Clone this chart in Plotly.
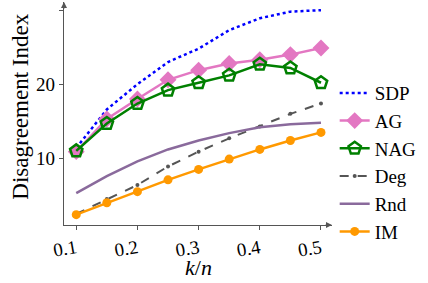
import plotly.graph_objects as go

x = [0.1, 0.15, 0.2, 0.25, 0.3, 0.35, 0.4, 0.45, 0.5]
sdp = [11.4, 16.6, 20.0, 23.0, 24.8, 27.3, 28.9, 29.8, 30.0]
ag = [10.9, 15.3, 18.0, 20.6, 21.9, 22.8, 23.3, 24.0, 24.9]
nag = [11.0, 14.7, 17.4, 19.2, 20.2, 21.2, 22.7, 22.2, 20.2]
deg = [2.5, 4.5, 6.4, 8.9, 10.9, 12.7, 14.3, 16.0, 17.4]
rnd = [5.3, 7.6, 9.6, 11.2, 12.4, 13.4, 14.2, 14.6, 14.8]
im = [2.4, 4.0, 5.5, 7.1, 8.5, 9.9, 11.2, 12.4, 13.5]
xticks = [0.1, 0.2, 0.3, 0.4, 0.5]
yticks = [10, 20, 30]

FONT = "Liberation Serif"
fig = go.Figure()
fig.add_trace(go.Scatter(x=x, y=sdp, name="SDP", mode="lines",
                         line=dict(color="#0000ff", width=2.5, dash="dot")))
fig.add_trace(go.Scatter(x=x, y=ag, name="AG", mode="lines+markers",
                         line=dict(color="#e377c2", width=2.5),
                         marker=dict(symbol="diamond", size=13, color="#e377c2")))
fig.add_trace(go.Scatter(x=x, y=nag, name="NAG", mode="lines+markers",
                         line=dict(color="#008000", width=2.5),
                         marker=dict(symbol="pentagon-open", size=13, color="#008000",
                                     line=dict(width=2.5, color="#008000"))))
fig.add_trace(go.Scatter(x=x, y=deg, name="Deg", mode="lines+markers",
                         line=dict(color="#555555", width=2, dash="dash"),
                         marker=dict(symbol="circle", size=4, color="#555555")))
fig.add_trace(go.Scatter(x=x, y=rnd, name="Rnd", mode="lines",
                         line=dict(color="#8a6a9c", width=2.5)))
fig.add_trace(go.Scatter(x=x, y=im, name="IM", mode="lines+markers",
                         line=dict(color="#ff9900", width=2.5),
                         marker=dict(symbol="circle", size=9, color="#ff9900")))

fig.update_layout(
    width=428, height=283,
    margin=dict(l=64, r=96, t=2, b=58),
    paper_bgcolor="white", plot_bgcolor="white",
    font=dict(family=FONT, size=19, color="black"),
    showlegend=True,
    legend=dict(x=1.01, xanchor="left", y=0.28, yanchor="middle",
                font=dict(family=FONT, size=19), tracegroupgap=0,
                itemwidth=30, bgcolor="rgba(0,0,0,0)"),
    xaxis=dict(range=[0.08, 0.518], tickvals=xticks, ticktext=[f"{v:.1f}" for v in xticks],
               showgrid=False, zeroline=False, showline=True, linecolor="#555555", linewidth=1.2,
               ticks="outside", ticklen=4, tickcolor="#555555", tickangle=-10,
               ticklabelstandoff=0,
               tickfont=dict(family=FONT, size=19), automargin=False),
    yaxis=dict(range=[1, 31.1], tickvals=yticks, showgrid=False, zeroline=False,
               showline=True, linecolor="#555555", linewidth=1.2,
               ticks="outside", ticklen=4, tickcolor="#555555",
               tickfont=dict(family=FONT, size=19), automargin=False),
)
fig.add_annotation(x=0.5, y=-0.19, xref="paper", yref="paper", yanchor="middle",
                   text="<i>k</i>/<i>n</i>", showarrow=False,
                   font=dict(family=FONT, size=22))
fig.add_annotation(x=-0.215, y=0.53, xref="paper", yref="paper", textangle=-90,
                   text="Disagreement Index", showarrow=False,
                   font=dict(family=FONT, size=23))
# axis arrowheads
fig.add_annotation(x=1.0, y=0, xref="paper", yref="paper", ax=-8, ay=0,
                   showarrow=True, arrowhead=2, arrowsize=1, arrowwidth=1.2,
                   arrowcolor="#555555", text="")
fig.add_annotation(x=0, y=1.0, xref="paper", yref="paper", ax=0, ay=8,
                   showarrow=True, arrowhead=2, arrowsize=1, arrowwidth=1.2,
                   arrowcolor="#555555", text="")
fig.write_html("out.html", config={"displayModeBar": False},
               post_script="document.body.style.margin='0';")
